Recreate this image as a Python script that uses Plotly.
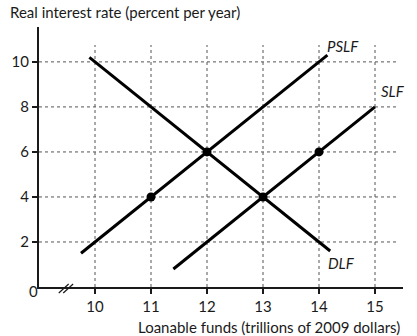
import plotly.graph_objects as go

# Loanable funds market: demand (DLF), supply (SLF) and private supply (PSLF)
x_ticks = [10, 11, 12, 13, 14, 15]
y_ticks = [2, 4, 6, 8, 10]

dlf_x = [9.9, 14.2]
dlf_y = [10.2, 1.6]
pslf_x = [9.75, 14.15]
pslf_y = [1.5, 10.3]
slf_x = [11.4, 15.0]
slf_y = [0.8, 8.0]

points_x = [11, 12, 13, 14]
points_y = [4, 6, 4, 6]

X_MIN, X_MAX = 9.0, 15.5
Y_MIN, Y_MAX = 0, 11.55
FONT = "Lato, 'Open Sans', sans-serif"
INK = "#1a1a1a"

fig = go.Figure()

# Dotted reference grid, limited to the region of interest
gx, gy = [], []
for yv in y_ticks:
    gx += [X_MIN, 15.4, None]
    gy += [yv, yv, None]
for xv in x_ticks:
    gx += [xv, xv, None]
    gy += [Y_MIN, 10.75, None]
fig.add_trace(go.Scatter(x=gx, y=gy, mode="lines",
                         line=dict(color="#555555", width=1, dash="dot"),
                         hoverinfo="skip", showlegend=False))

for xs, ys in [(dlf_x, dlf_y), (pslf_x, pslf_y), (slf_x, slf_y)]:
    fig.add_trace(go.Scatter(x=xs, y=ys, mode="lines",
                             line=dict(color="black", width=3),
                             showlegend=False))

fig.add_trace(go.Scatter(x=points_x, y=points_y, mode="markers",
                         marker=dict(color="black", size=9),
                         showlegend=False))

# Curve labels
labels = [("PSLF", 14.42, 10.7), ("SLF", 15.33, 8.7), ("DLF", 14.4, 1.05)]
for txt, lx, ly in labels:
    fig.add_annotation(x=lx, y=ly, text=f"<i>{txt}</i>", showarrow=False,
                       font=dict(family=FONT, size=15, color=INK))

# Axis break marks on the horizontal axis
plot_l, plot_r, plot_t, plot_b = 35, 14, 27, 49
pw = 417 - plot_l - plot_r
ph = 336 - plot_t - plot_b
for off in (0, 4.5):
    x0 = (20 + off) / pw
    x1 = (30 + off) / pw
    fig.add_shape(type="line", xref="paper", yref="paper",
                  x0=x0, y0=-6 / ph, x1=x1, y1=3 / ph,
                  line=dict(color=INK, width=1.2))

# Origin label
fig.add_annotation(xref="paper", yref="paper", x=-12 / pw, y=-15 / ph,
                   text="0", showarrow=False,
                   font=dict(family=FONT, size=15, color=INK))

# Axis titles
fig.add_annotation(xref="paper", yref="paper", x=-31 / pw, y=1 + 15 / ph,
                   xanchor="left", yanchor="middle",
                   text="Real interest rate (percent per year)", showarrow=False,
                   font=dict(family=FONT, size=15, color=INK))
fig.add_annotation(xref="paper", yref="paper", x=1 - 1 / pw, y=-40 / ph,
                   xanchor="right", yanchor="middle",
                   text="Loanable funds (trillions of 2009 dollars)", showarrow=False,
                   font=dict(family=FONT, size=15, color=INK))

fig.update_xaxes(range=[X_MIN, X_MAX], tickvals=x_ticks, showgrid=False,
                 zeroline=False, showline=True, linecolor=INK, linewidth=2,
                 ticks="outside", ticklen=5, tickwidth=1.5, tickcolor=INK,
                 tickfont=dict(family=FONT, size=15, color=INK))
fig.update_yaxes(range=[Y_MIN, Y_MAX], tickvals=y_ticks, showgrid=False,
                 zeroline=False, showline=True, linecolor=INK, linewidth=2,
                 ticks="outside", ticklen=5, tickwidth=1.5, tickcolor=INK,
                 tickfont=dict(family=FONT, size=15, color=INK))

fig.update_layout(width=417, height=336,
                  margin=dict(l=plot_l, r=plot_r, t=plot_t, b=plot_b),
                  plot_bgcolor="white", paper_bgcolor="white",
                  showlegend=False)

fig.write_html("out.html")
